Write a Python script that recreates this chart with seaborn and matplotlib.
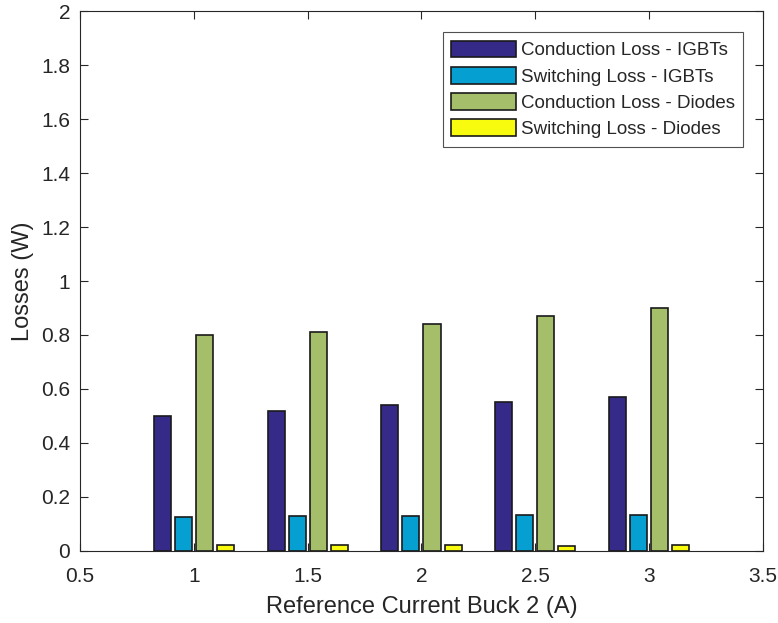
import matplotlib
matplotlib.use("Agg")
import matplotlib.pyplot as plt
import seaborn as sns
import pandas as pd

# Reference current settings (A)
currents = [1.0, 1.5, 2.0, 2.5, 3.0]

# Loss components (W)
cond_igbt = [0.50, 0.52, 0.54, 0.55, 0.57]
sw_igbt = [0.125, 0.13, 0.13, 0.135, 0.135]
cond_diode = [0.80, 0.81, 0.84, 0.87, 0.90]
sw_diode = [0.022, 0.022, 0.022, 0.02, 0.022]

series_names = [
    "Conduction Loss - IGBTs",
    "Switching Loss - IGBTs",
    "Conduction Loss - Diodes",
    "Switching Loss - Diodes",
]
series_colors = ["#352A87", "#069FD1", "#A5BE6A", "#F9FB0E"]

rows = []
for name, vals in zip(series_names, [cond_igbt, sw_igbt, cond_diode, sw_diode]):
    for c, v in zip(currents, vals):
        rows.append({"current": c, "loss": v, "component": name})
df = pd.DataFrame(rows)

sns.set_style("white")
plt.rcParams["font.family"] = ["Liberation Sans", "DejaVu Sans"]

fig = plt.figure(figsize=(7.78, 6.23), dpi=100)
ax = fig.add_axes([0.1028, 0.1156, 0.8779, 0.8667])

sns.barplot(
    data=df, x="current", y="loss", hue="component",
    hue_order=series_names, palette=series_colors, saturation=1,
    native_scale=True, width=0.74, gap=0.19,
    edgecolor="#1a1a1a", linewidth=1.2, errorbar=None, ax=ax,
)

ax.set_xlim(0.5, 3.5)
ax.set_ylim(0, 2)
ax.set_xticks([0.5, 1, 1.5, 2, 2.5, 3, 3.5])
ax.set_xticklabels(["0.5", "1", "1.5", "2", "2.5", "3", "3.5"])
ax.set_yticks([0, 0.2, 0.4, 0.6, 0.8, 1, 1.2, 1.4, 1.6, 1.8, 2])
ax.set_yticklabels(["0", "0.2", "0.4", "0.6", "0.8", "1", "1.2", "1.4", "1.6", "1.8", "2"])

ax.tick_params(direction="in", length=6, width=0.8, colors="#262626",
               labelsize=15, top=True, right=True, bottom=True, left=True,
               labelcolor="#262626")
ax.tick_params(axis="x", pad=11.5)
ax.tick_params(axis="y", pad=7)
for s in ax.spines.values():
    s.set_visible(True)
    s.set_color("#262626")
    s.set_linewidth(0.8)

ax.set_xlabel("Reference Current Buck 2 (A)", fontsize=17, color="#262626", labelpad=7.5)
ax.set_ylabel("Losses (W)", fontsize=17, color="#262626", labelpad=5)

leg = ax.legend(
    loc="upper right", bbox_to_anchor=(0.9707, 0.961), fontsize=13.5,
    frameon=True, fancybox=False, edgecolor="#262626",
    handlelength=3.45, handleheight=1.0, handletextpad=0.25,
    labelspacing=0.4, borderpad=0.45, borderaxespad=0,
)
leg.get_frame().set_linewidth(0.8)

fig.savefig("out.png", dpi=100)
